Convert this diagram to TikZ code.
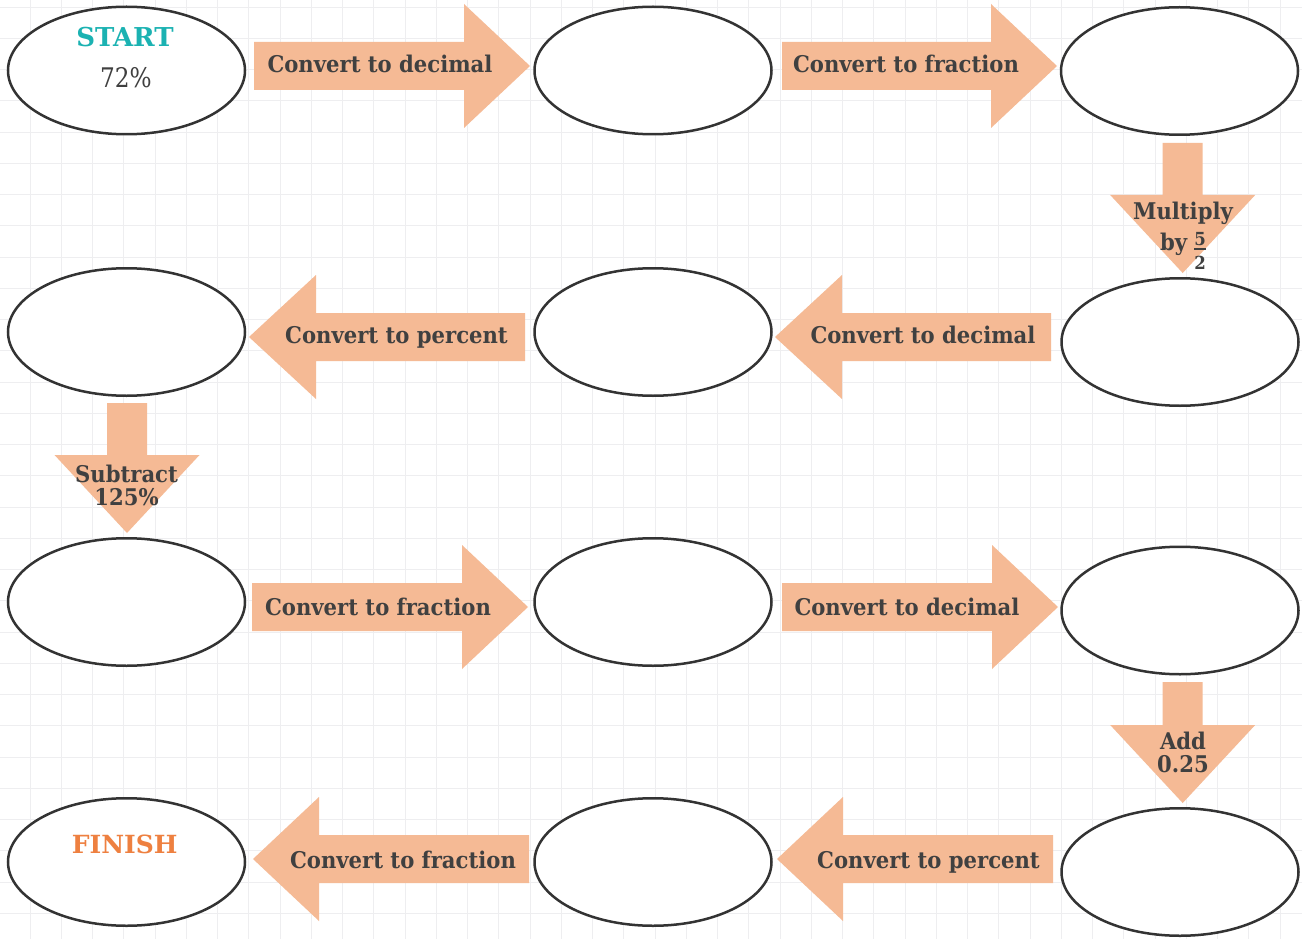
\documentclass[tikz,border=0pt]{standalone}
\usepackage{fontspec}
\newfontfamily\slab[FakeStretch=0.92]{DejaVu Serif}
\newfontfamily\slabw{DejaVu Serif}
\newfontfamily\slabn[FakeStretch=0.86]{DejaVu Serif}
\definecolor{peach}{RGB}{245,186,149}
\definecolor{ink}{RGB}{64,64,64}
\definecolor{startcol}{RGB}{27,178,178}
\definecolor{finishcol}{RGB}{238,128,64}
\definecolor{gridcol}{RGB}{238,238,240}
\definecolor{ovalcol}{RGB}{51,51,51}
\newcommand\arrR[4]{\fill[arrowfill] (#1,#4-24) -- (#2,#4-24) -- (#2,#4-62) -- (#3,#4) -- (#2,#4+62) -- (#2,#4+24) -- (#1,#4+24) -- cycle;}
\newcommand\arrL[4]{\fill[arrowfill] (#1,#4) -- (#2,#4-62) -- (#2,#4-24) -- (#3,#4-24) -- (#3,#4+24) -- (#2,#4+24) -- (#2,#4+62) -- cycle;}
\newcommand\arrD[4]{\fill[arrowfill] (#1-20,#2) -- (#1+20,#2) -- (#1+20,#3) -- (#1+72.5,#3) -- (#1,#4) -- (#1-72.5,#3) -- (#1-20,#3) -- cycle;}
\newcommand\fracbox[2]{\raisebox{-19pt}{\vbox{\fontsize{18}{18}\selectfont\halign{\hfil##\hfil\cr #1\cr\noalign{\kern3pt\hrule height 1.5pt\kern6.5pt}#2\cr}}}}
\tikzset{
  oval/.style={ellipse, draw=ovalcol, line width=2.5pt, fill=white, minimum width=237pt, minimum height=127.5pt, inner sep=0pt},
  arrowfill/.style={fill=peach},
  lab/.style={text=ink, inner sep=0pt, anchor=base, font=\slab\bfseries\fontsize{23}{23}\selectfont},
  vlab/.style={text=ink, inner sep=0pt, align=center, font=\slab\bfseries\fontsize{23}{23}\selectfont},
}
\usetikzlibrary{shapes.geometric}
\begin{document}
\begin{tikzpicture}[x=1pt,y=-1pt]
\useasboundingbox (0,0) rectangle (1302,939);
\fill[white] (0,0) rectangle (1302,939);
\foreach \i in {0,...,40} \draw[gridcol, line width=0.8pt] ({30+31.25*\i},0) -- ({30+31.25*\i},939);
\foreach \i in {0,...,29} \draw[gridcol, line width=0.8pt] (0,{7+31.25*\i}) -- (1302,{7+31.25*\i});
% ovals
\node[oval] (e1) at (126.5,70.5) {};
\node[oval] (e2) at (653,70.5) {};
\node[oval] (e3) at (1179.5,71) {};
\node[oval] (e4) at (126.5,332) {};
\node[oval] (e5) at (653,332) {};
\node[oval] (e6) at (1180,342) {};
\node[oval] (e7) at (126.5,602) {};
\node[oval] (e8) at (653,602) {};
\node[oval] (e9) at (1180,610.5) {};
\node[oval] (e10) at (126.5,862) {};
\node[oval] (e11) at (653,862) {};
\node[oval] (e12) at (1180,872) {};
% arrows
\arrR{254}{464}{530}{66}
\arrR{782}{991}{1057}{66}
\arrD{1182.7}{143}{195}{273}
\arrL{249}{316}{525}{337}
\arrL{775}{842}{1051}{337}
\arrD{127}{403}{455}{533}
\arrR{252}{462}{528}{607}
\arrR{782}{992}{1058}{607}
\arrD{1182.7}{682}{725}{803}
\arrL{777}{843}{1053}{859}
\arrL{253}{319}{529}{859}
% texts
\node[text=startcol, inner sep=0pt, anchor=base, font=\slabw\bfseries\fontsize{26}{26}\selectfont] (start) at (125,46.7) {START};
\node[text=ink, inner sep=0pt, anchor=base, font=\slabn\fontsize{27}{27}\selectfont] (pct) at (126,87.3) {72\%};
\node[text=finishcol, inner sep=0pt, anchor=base, font=\slabw\bfseries\fontsize{25}{25}\selectfont] (finish) at (124.7,853.3) {FINISH};
\node[lab] (l1) at (380,72.7) {Convert to decimal};
\node[lab] (l2) at (906,72.7) {Convert to fraction};
\node[vlab] (l3) at (1183,236) {Multiply\\[6pt]by \fracbox{5}{2}};
\node[lab] (l4) at (923,343) {Convert to decimal};
\node[lab] (l5) at (396.5,343) {Convert to percent};
\node[vlab] (l6) at (126.5,485.3) {Subtract\\125\%};
\node[lab] (l7) at (378,615) {Convert to fraction};
\node[lab] (l8) at (907,615) {Convert to decimal};
\node[vlab] (l9) at (1183,752) {Add\\0.25};
\node[lab] (l10) at (928.5,868) {Convert to percent};
\node[lab] (l11) at (403,868) {Convert to fraction};
\end{tikzpicture}
\end{document}
